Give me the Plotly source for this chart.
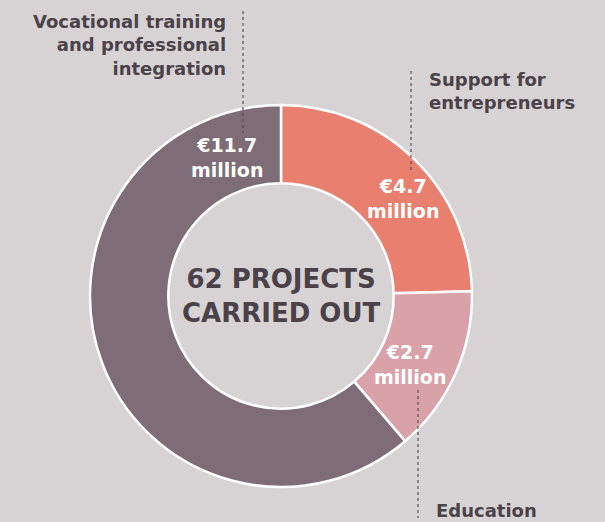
import plotly.graph_objects as go

categories = ["Support for entrepreneurs", "Education", "Vocational training and professional integration"]
amounts = [4.7, 2.7, 11.7]  # € million
colors = ["#e9806f", "#d9a2a8", "#7e6c76"]
center_title = "62 PROJECTS<br>CARRIED OUT"

W, H = 605, 522
BG = "#d7d3d4"
DARK = "#4a4248"
FONT = "DejaVu Sans"


def px(x, y):
    return x / W, 1 - y / H


cx, cy, r = 281, 296, 191
x0, y1 = px(cx - r, cy - r)
x1, y0 = px(cx + r, cy + r)

fig = go.Figure(go.Pie(
    labels=categories,
    values=amounts,
    marker=dict(colors=colors, line=dict(color="white", width=2.5)),
    hole=0.59,
    sort=False,
    direction="clockwise",
    textinfo="none",
    hoverinfo="label+value",
    domain=dict(x=[x0, x1], y=[y0, y1]),
    showlegend=False,
))

annotations = []

# value labels inside the ring
value_pos = [(403, 198), (410, 364), (227, 157)]
for v, (x, y) in zip(amounts, value_pos):
    ax, ay = px(x, y)
    annotations.append(dict(
        x=ax, y=ay, xref="paper", yref="paper", showarrow=False,
        xanchor="center", yanchor="middle",
        text=f"<b>€{v}<br>million</b>", align="center",
        font=dict(family=FONT, size=19, color="white"),
    ))

# category labels
label_pos = [(427, 91, "left"), (434, 510, "left"), (228, 45, "right")]
label_text = ["Support for<br>entrepreneurs", "Education", "Vocational training<br>and professional<br>integration"]
for t, (x, y, side) in zip(label_text, label_pos):
    ax, ay = px(x, y)
    annotations.append(dict(
        x=ax, y=ay, xref="paper", yref="paper", showarrow=False,
        text=f"<b>{t}</b>", align=side, xanchor=side, yanchor="middle",
        font=dict(family=FONT, size=18, color=DARK),
    ))

# centre text
ax, ay = px(cx, 296)
annotations.append(dict(
    x=ax, y=ay, xref="paper", yref="paper", showarrow=False,
    xanchor="center", yanchor="middle",
    text=f"<b>{center_title}</b>", align="center",
    font=dict(family=FONT, size=26, color=DARK),
))

# dotted leader lines
shapes = []
for x, ya, yb in [(243, 11, 133), (411, 71, 172), (418, 390, 518)]:
    lx, ly0 = px(x, ya)
    _, ly1 = px(x, yb)
    shapes.append(dict(type="line", xref="paper", yref="paper",
                       x0=lx, x1=lx, y0=ly0, y1=ly1,
                       line=dict(color="#555055", width=1.2, dash="dot")))

fig.update_layout(
    width=W, height=H,
    margin=dict(l=0, r=0, t=0, b=0),
    paper_bgcolor=BG, plot_bgcolor=BG,
    annotations=annotations,
    shapes=shapes,
)

fig.write_html("out.html", config={"displayModeBar": False},
               post_script="document.body.style.margin='0';")
